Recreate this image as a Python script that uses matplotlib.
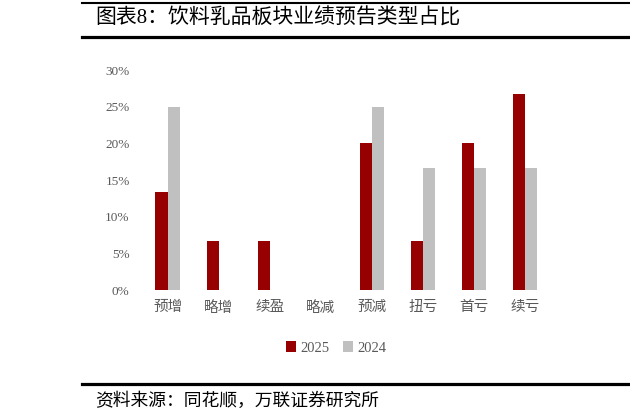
import matplotlib
matplotlib.use("Agg")
import matplotlib.pyplot as plt
from matplotlib.lines import Line2D
import numpy as np

plt.rcParams['font.family'] = ['Liberation Serif', 'Noto Sans CJK SC', 'DejaVu Sans']

categories = ['预增', '略增', '续盈', '略减', '预减', '扭亏', '首亏', '续亏']
share_2025 = [13.33, 6.67, 6.67, 0.0, 20.0, 6.67, 20.0, 26.67]
share_2024 = [25.0, 0.0, 0.0, 0.0, 25.0, 16.67, 16.67, 16.67]
yticks = [0, 5, 10, 15, 20, 25, 30]

title = '图表8：饮料乳品板块业绩预告类型占比'
source = '资料来源：同花顺，万联证券研究所'

red = '#960000'
gray = '#c0c0c0'
text_gray = '#595959'

fig = plt.figure(figsize=(6.3, 4.2), dpi=100)
ax = fig.add_axes([0.2257, 0.3095, 0.6484, 0.5238])

x = np.arange(len(categories))
w = 0.24
ax.bar(x - w / 2, share_2025, w, color=red, label='2025')
ax.bar(x + w / 2, share_2024, w, color=gray, label='2024')

ax.set_xlim(-0.5, len(categories) - 0.5)
ax.set_ylim(0, 30)
ax.set_yticks(yticks)
ax.set_yticklabels([f'{v}%' for v in yticks])
ax.set_xticks(x)
ax.set_xticklabels(categories)
for s in ax.spines.values():
    s.set_visible(False)
ax.tick_params(axis='y', length=0, pad=9, labelsize=9.5, labelcolor=text_gray)
ax.tick_params(axis='x', length=0, pad=8, labelsize=10.5, labelcolor=text_gray)

fig.legend(loc='center', bbox_to_anchor=(336 / 630, 1 - 348 / 420), ncol=2,
           frameon=False, fontsize=10.5, handlelength=0.7, handleheight=0.7,
           handletextpad=0.3, columnspacing=0.9, labelcolor=text_gray)

# header and footer rules
x0 = 82 / 630
fig.add_artist(Line2D([x0, 1], [1 - 3 / 420] * 2, transform=fig.transFigure, color='black', lw=1.5))
fig.add_artist(Line2D([x0, 1], [1 - 37 / 420] * 2, transform=fig.transFigure, color='black', lw=2.3))
fig.add_artist(Line2D([x0, 1], [1 - 384 / 420] * 2, transform=fig.transFigure, color='black', lw=2.3))

fig.text(95 / 630, 1 - 19 / 420, title, fontsize=15, va='center', ha='left', color='black')
fig.text(95 / 630, 1 - 401 / 420, source, fontsize=12.8, va='center', ha='left',
         color='black', style='italic')

fig.savefig('out.png', dpi=100)
